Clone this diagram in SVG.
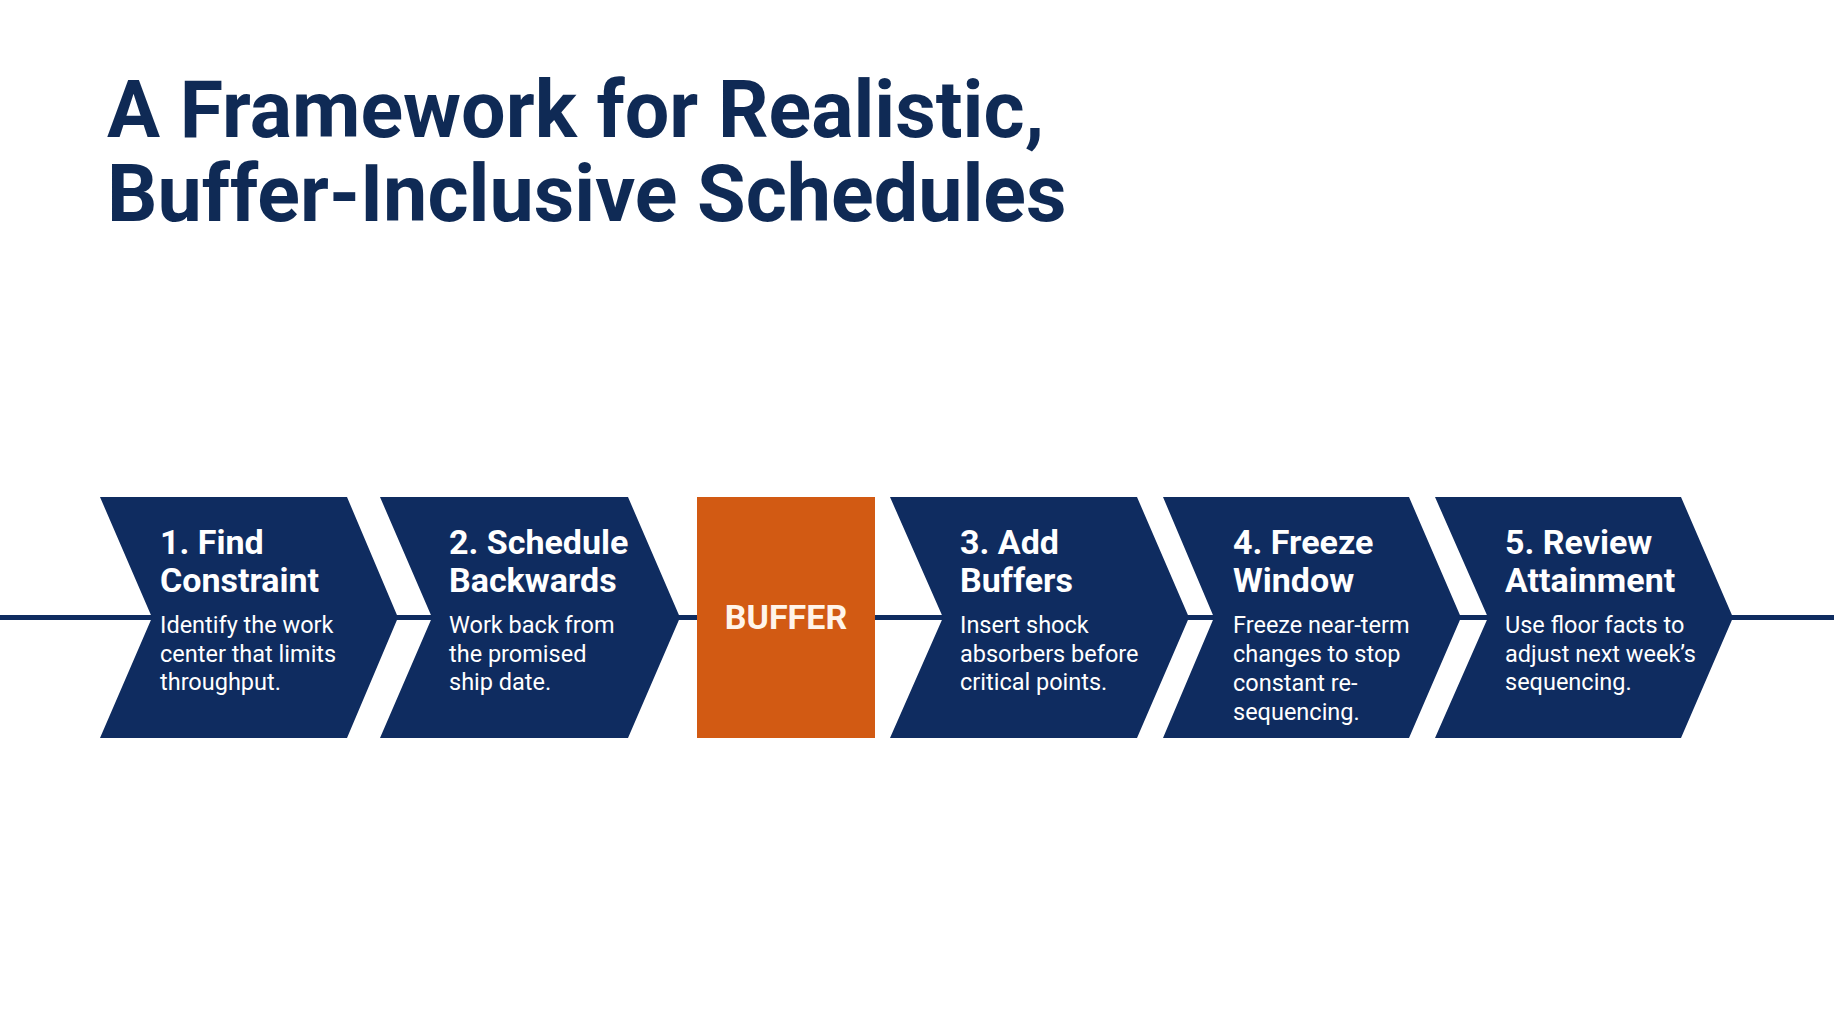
<svg xmlns="http://www.w3.org/2000/svg" width="1834" height="1024" viewBox="0 0 1834 1024">
  <style>
    .title { font-family: Roboto, "Liberation Sans", sans-serif; font-weight: 700; font-size: 79px; fill: #0F2A55; }
    .chev { fill: #0F2C60; }
    .buf { fill: #D25A13; }
    .head { font-family: Roboto, "Liberation Sans", sans-serif; font-weight: 700; font-size: 34px; fill: #FFFFFF; }
    .desc { font-family: Roboto, "Liberation Sans", sans-serif; font-weight: 400; font-size: 23.5px; fill: #FFFFFF; }
    .buftext { font-family: Roboto, "Liberation Sans", sans-serif; font-weight: 700; font-size: 34px; fill: #FFF4EA; }
    .line { stroke: #0F2C60; stroke-width: 5; fill: none; }
  </style>
  <rect width="1834" height="1024" fill="#FFFFFF"/>
  <g id="title">
    <text class="title" x="107" y="137">A Framework for Realistic,</text>
    <text class="title" x="107" y="221">Buffer-Inclusive Schedules</text>
  </g>
  <g id="connectors">
    <line class="line" x1="0" y1="617.5" x2="1834" y2="617.5"/>
  </g>
  <g id="step1">
    <polygon class="chev" points="100,497 347,497 398,617.5 347,738 100,738 152,617.5"/>
    <text class="head" x="160" y="554">1. Find</text>
    <text class="head" x="160" y="592">Constraint</text>
    <text class="desc" x="160" y="633">Identify the work</text>
    <text class="desc" x="160" y="662">center that limits</text>
    <text class="desc" x="160" y="690">throughput.</text>
  </g>
  <g id="step2">
    <polygon class="chev" points="380,497 628,497 680,617.5 628,738 380,738 432,617.5"/>
    <text class="head" x="449" y="554">2. Schedule</text>
    <text class="head" x="449" y="592">Backwards</text>
    <text class="desc" x="449" y="633">Work back from</text>
    <text class="desc" x="449" y="662">the promised</text>
    <text class="desc" x="449" y="690">ship date.</text>
  </g>
  <g id="buffer">
    <rect class="buf" x="697" y="497" width="178" height="241"/>
    <text class="buftext" x="786" y="629" text-anchor="middle">BUFFER</text>
  </g>
  <g id="step3">
    <polygon class="chev" points="890,497 1137,497 1189,617.5 1137,738 890,738 943,617.5"/>
    <text class="head" x="960" y="554">3. Add</text>
    <text class="head" x="960" y="592">Buffers</text>
    <text class="desc" x="960" y="633">Insert shock</text>
    <text class="desc" x="960" y="662">absorbers before</text>
    <text class="desc" x="960" y="690">critical points.</text>
  </g>
  <g id="step4">
    <polygon class="chev" points="1163,497 1409,497 1461,617.5 1409,738 1163,738 1214,617.5"/>
    <text class="head" x="1233" y="554">4. Freeze</text>
    <text class="head" x="1233" y="592">Window</text>
    <text class="desc" x="1233" y="633">Freeze near-term</text>
    <text class="desc" x="1233" y="662">changes to stop</text>
    <text class="desc" x="1233" y="691">constant re-</text>
    <text class="desc" x="1233" y="720">sequencing.</text>
  </g>
  <g id="step5">
    <polygon class="chev" points="1435,497 1681,497 1733,617.5 1681,738 1435,738 1488,617.5"/>
    <text class="head" x="1505" y="554">5. Review</text>
    <text class="head" x="1505" y="592">Attainment</text>
    <text class="desc" x="1505" y="633">Use floor facts to</text>
    <text class="desc" x="1505" y="662">adjust next week’s</text>
    <text class="desc" x="1505" y="690">sequencing.</text>
  </g>
</svg>
